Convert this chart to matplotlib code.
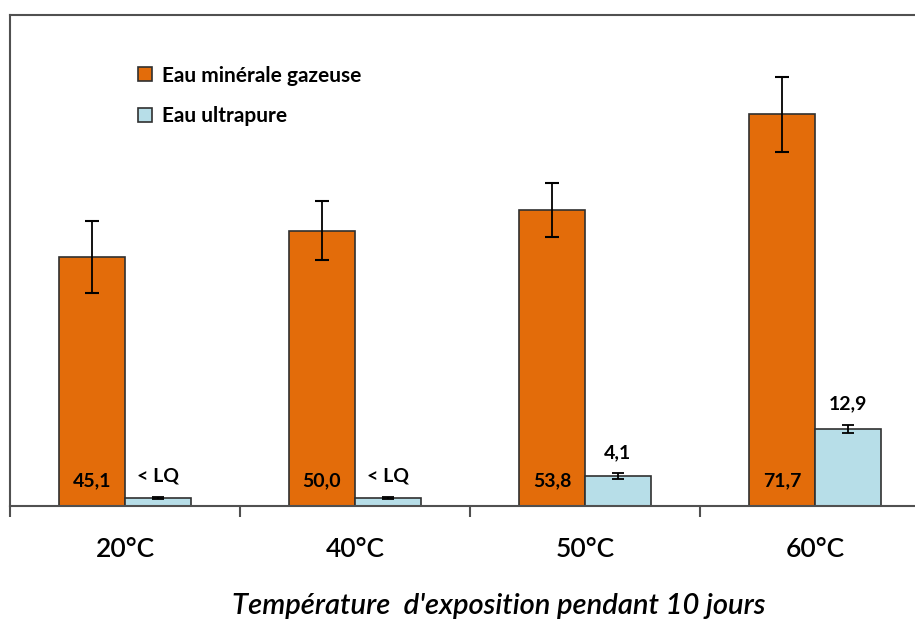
import matplotlib.pyplot as plt
import numpy as np

plt.rcParams['font.family'] = ['Lato', 'DejaVu Sans']

# data
temps = ['20°C', '40°C', '50°C', '60°C']
gazeuse = [45.1, 50.0, 53.8, 71.7]
gazeuse_err = [6.7, 5.5, 5.0, 7.0]
ultrapure = [0.0, 0.0, 4.1, 12.9]
ultrapure_err = [0.2, 0.2, 0.5, 0.8]
gazeuse_labels = ['45,1', '50,0', '53,8', '71,7']
ultrapure_labels = ['< LQ', '< LQ', '4,1', '12,9']

base = -1.5
orange = '#E36C0A'
blue = '#B7DEE8'
spine_col = '#505050'

fig = plt.figure(figsize=(9.15, 6.24), dpi=100)
ax = fig.add_axes([10/915, 118/624, 905/915, 491/624])

x = np.arange(len(temps))
w = 0.287

g = np.array(gazeuse)
u = np.array(ultrapure)
ax.bar(x - w/2, g - base, w, bottom=base, color=orange, edgecolor='#303030',
       linewidth=1.2, label='Eau minérale gazeuse', zorder=2)
ax.bar(x + w/2, u - base, w, bottom=base, color=blue, edgecolor='#303030',
       linewidth=1.2, label='Eau ultrapure', zorder=2)
ax.errorbar(x - w/2, g, yerr=gazeuse_err, fmt='none', ecolor='black',
            elinewidth=1.3, capsize=5, capthick=1.5, zorder=3)
ax.errorbar(x + w/2, u, yerr=ultrapure_err, fmt='none', ecolor='black',
            elinewidth=1.3, capsize=4, capthick=1.3, zorder=3)

for i in range(len(temps)):
    ax.text(x[i] - w/2, 3.2, gazeuse_labels[i], ha='center', va='center',
            fontsize=14, fontweight='bold', color='black', zorder=4)
    ax.annotate(ultrapure_labels[i], (x[i] + w/2, u[i] + ultrapure_err[i]),
                xytext=(0, 9), textcoords='offset points', ha='center',
                va='bottom', fontsize=14, fontweight='bold', zorder=4)

ax.set_xlim(-0.5, 3.435)
ax.set_ylim(base, 90.3)

ax.set_xticks(x)
ax.set_xticklabels(temps, fontsize=19, fontweight='semibold')
ax.set_xticks([-0.5, 0.5, 1.5, 2.5], minor=True)
ax.tick_params(axis='x', which='major', length=0, pad=22)
ax.tick_params(axis='x', which='minor', length=8, width=1.5, color=spine_col,
               direction='out')
ax.set_yticks([])

for s in ['left', 'top', 'bottom']:
    ax.spines[s].set_color(spine_col)
    ax.spines[s].set_linewidth(1.5)
ax.spines['right'].set_visible(False)

fig.text(499/915, 1 - 606/624, "Température  d'exposition pendant 10 jours",
         ha='center', va='center', fontsize=21, fontstyle='italic',
         fontweight='semibold')

ax.legend(loc='upper left', bbox_to_anchor=(0.121, 0.935), frameon=False,
          prop={'weight': 'bold', 'size': 15}, handlelength=0.65,
          handleheight=0.65, handletextpad=0.5, labelspacing=1.0)

fig.savefig('out.png', dpi=100)
